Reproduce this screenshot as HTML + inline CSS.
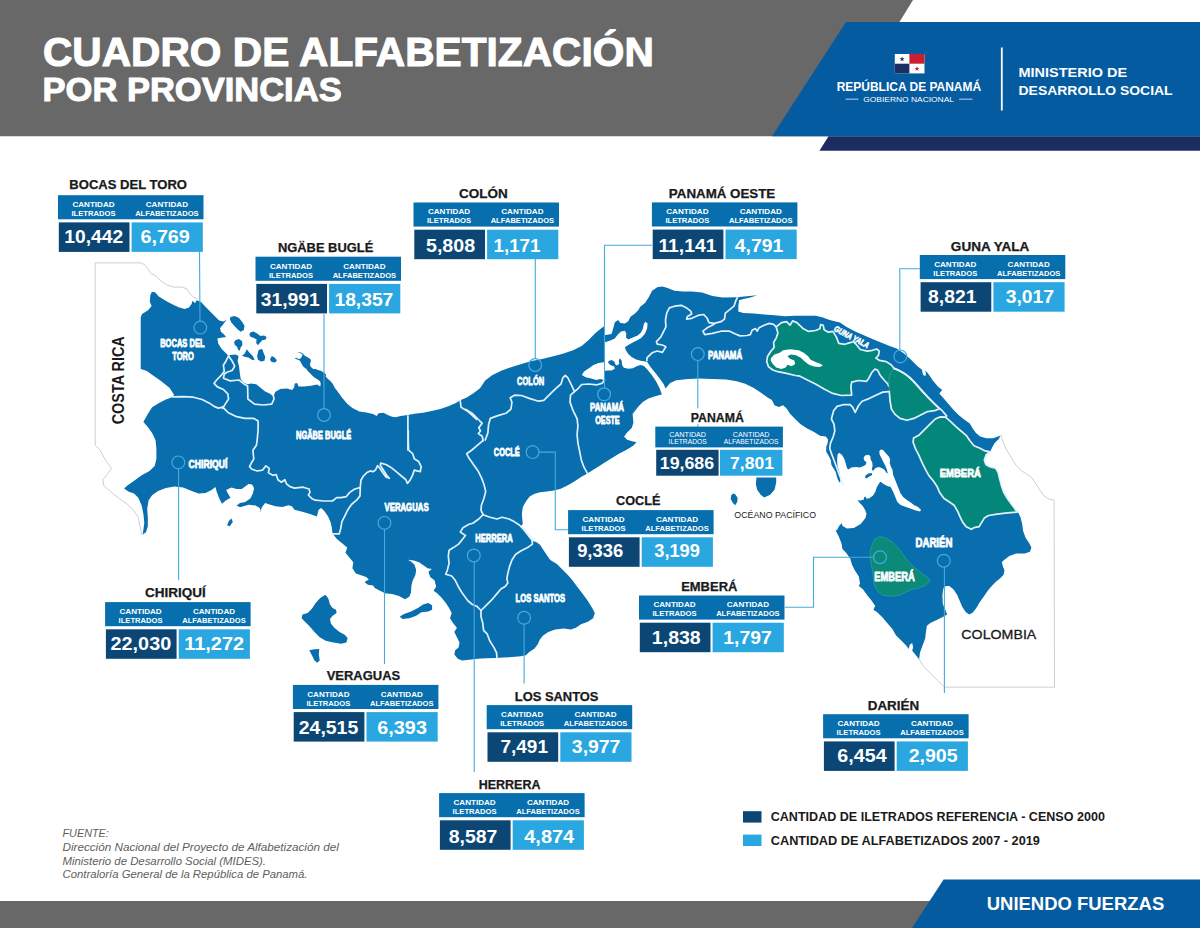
<!DOCTYPE html>
<html lang="es">
<head>
<meta charset="utf-8">
<title>Cuadro de Alfabetización por Provincias</title>
<style>
html,body{margin:0;padding:0;background:#fff;}
body{width:1200px;height:928px;overflow:hidden;}
svg{display:block;font-family:'Liberation Sans', sans-serif;}
</style>
</head>
<body>
<svg width="1200" height="928" viewBox="0 0 1200 928">
<rect width="1200" height="928" fill="#fff"/>
<polygon points="0,0 913,0 829,136.2 0,136.2" fill="#696868"/>
<polygon points="846,22 1200,22 1200,136.3 772,136.3" fill="#055ba0"/>
<polygon points="828.5,136.3 1200,136.3 1200,150.7 819.5,150.7" fill="#1b2d60"/>
<text x="42.995" y="65.8" font-size="41.5" font-weight="bold" fill="#fff" text-anchor="start" textLength="610.765" lengthAdjust="spacingAndGlyphs" stroke="#fff" stroke-width="1.1">CUADRO DE ALFABETIZACIÓN</text>
<text x="42.534" y="101" font-size="33.8" font-weight="bold" fill="#fff" text-anchor="start" textLength="299.118" lengthAdjust="spacingAndGlyphs" stroke="#fff" stroke-width="1">POR PROVINCIAS</text>
<g>
<rect x="894.8" y="54" width="29.7" height="19.4" fill="#fff"/>
<rect x="909.4" y="54" width="15.1" height="9.7" fill="#c8202f"/>
<rect x="894.8" y="63.7" width="14.6" height="9.7" fill="#1b2f63"/>
<polygon points="902.1,56.5 902.71,58.26 904.57,58.3 903.09,59.42 903.63,61.2 902.1,60.14 900.57,61.2 901.11,59.42 899.63,58.3 901.49,58.26" fill="#1b2f63"/>
<polygon points="917,66.2 917.61,67.96 919.47,68 917.99,69.12 918.53,70.9 917,69.84 915.47,70.9 916.01,69.12 914.53,68 916.39,67.96" fill="#c8202f"/>
</g>
<text x="836.66" y="90.8" font-size="12" font-weight="bold" fill="#fff" text-anchor="start" textLength="144.52" lengthAdjust="spacingAndGlyphs">REPÚBLICA DE PANAMÁ</text>
<text x="863.254" y="102.2" font-size="7.8" font-weight="normal" fill="#fff" text-anchor="start" textLength="90.758" lengthAdjust="spacingAndGlyphs">GOBIERNO NACIONAL</text>
<rect x="845.5" y="98.6" width="13" height="1.2" fill="#a9b9ea"/>
<rect x="959" y="98.6" width="13.5" height="1.2" fill="#a9b9ea"/>
<rect x="1000.9" y="47.5" width="1.8" height="63" fill="#fff"/>
<text x="1018.55" y="77.2" font-size="13.5" font-weight="bold" fill="#fff" text-anchor="start" textLength="108.485" lengthAdjust="spacingAndGlyphs">MINISTERIO DE</text>
<text x="1018.55" y="95.1" font-size="13.5" font-weight="bold" fill="#fff" text-anchor="start" textLength="154.085" lengthAdjust="spacingAndGlyphs">DESARROLLO SOCIAL</text>
<rect x="0" y="901" width="960" height="27" fill="#696868"/>
<polygon points="943.6,879.6 1200,879.6 1200,928 912,928" fill="#055ba0"/>
<text x="986.74" y="910" font-size="18" font-weight="bold" fill="#fff" text-anchor="start" textLength="177.48" lengthAdjust="spacingAndGlyphs">UNIENDO FUERZAS</text>
<path d="M197.2 299.1 L192.9 296.6 L189.5 293.1 L186.9 288.8 L181.7 287.1 L173.1 287.1 L166.2 284.5 L160.2 280.2 L155.9 275.9 L150.7 273.3 L148.1 269 L144.7 264.8 L141.2 262.9 L95.2 262.9 L95.2 445.2 L100.3 450.3 L103.8 457.2 L107.2 462.4 L111.6 468.4 L107.2 474.5 L102.9 479.7 L103.8 485.7 L110.7 491.7 L119.3 498.6 L127.9 504.7 L134 510.7 L138.3 517.6 L140 526.2 L141.7 534.8" fill="none" stroke="#cfcfcf" stroke-width="1"/>
<path d="M1000.7 434.8 L1002.4 439.7 L1004.1 444.8 L1007.6 451.7 L1011.9 458.6 L1016.2 465.5 L1021.4 470.7 L1026.6 474.1 L1031.7 477.6 L1035.2 482.8 L1039.5 489.7 L1043.8 495.7 L1049 499.1 L1054.1 500 L1054.5 687.2 L944.5 687.2 L942.4 685.2 L937.2 680 L930.3 673.1 L923.4 666.2 L919.1 659.3" fill="none" stroke="#cfcfcf" stroke-width="1"/>
<path d="M151.9 291.7 L155.3 292.4 L158.8 296.4 L164.8 300.3 L171.7 304.1 L178.6 307.2 L184.7 309 L189 307.6 L191.6 304.1 L192.4 300.7 L195 303.3 L196.7 300.3 L201 302.1 L206.2 307.6 L213.1 314.5 L219.1 320.5 L223.4 321.4 L226.6 319.7 L223.4 324 L220 328.3 L220.9 331.7 L224.3 334.8 L226 336.9 L220.9 337.8 L217.4 338.6 L218.3 343.8 L221.7 349 L226 353.3 L228.6 355.9 L230.3 355 L235.5 354.5 L238.6 355.9 L237.6 361 L239 366.2 L239.8 373.1 L240.7 379.1 L243.3 382.6 L247.6 384.3 L251 383.4 L256.2 384.3 L260.5 387.8 L264.8 391.2 L270 393.8 L273.4 396.4 L275.2 392.1 L280.3 389 L280 389.1 L286.9 388.6 L292.1 390 L294.1 387.4 L294.7 383.4 L297.2 383.1 L298.6 386.6 L304.1 386.6 L311 385.7 L317.1 384.5 L320.2 386.6 L320.7 384 L320.2 381.4 L318.1 379.8 L315.5 378.3 L312.9 376.2 L310.3 373.6 L307.8 371 L306.2 368.7 L303.6 366.9 L302.1 364.8 L301 362.8 L300 360.7 L298.5 359.9 L296.1 359.1 L294.6 358.2 L296.1 357.8 L298.7 358.9 L300.3 358.7 L301.8 356.8 L302.6 355 L301.6 353.7 L299 352.8 L297.2 352.2 L300 352.3 L302.8 353.6 L304.4 355.5 L307 357.1 L309.6 358.5 L310.9 359.9 L310.6 362.2 L309.8 364.8 L310.9 366.9 L313.2 369 L315.5 369.1 L318.1 370 L321.2 371 L324.3 372.9 L326.1 374.4 L325.6 376.2 L327.7 378.8 L330.3 380.9 L332.9 384 L334.9 388 L337.8 391.7 L342.1 397.8 L347.2 403.8 L352.4 408.1 L359.3 411.6 L366.2 412.4 L373.1 414.1 L376.6 415.9 L378.6 413.3 L383.4 412.8 L387.8 415 L392.1 416.7 L395.5 417.2 L400.7 415.9 L407.6 415 L414.5 413.8 L423.1 412.8 L431.7 411 L440.3 409 L449 405.9 L455.9 402.9 L460.2 400.3 L466.2 397.8 L473.1 393.4 L480 388.3 L485.2 380.5 L492.1 375.3 L500.7 371 L511 367.2 L521.4 364.1 L531.7 361 L542.1 359 L552.4 356.4 L562.8 353.8 L573.1 350.3 L581.7 346 L588.6 340 L595.5 333.1 L600.7 328.8 L603.8 326.6 L604 326.8 L604 335.2 L611.5 334.1 L613.1 329.1 L614.8 322.3 L618.2 320.1 L620.4 322.9 L624.9 323.4 L628.3 321.2 L630.5 316.7 L635 313.4 L638.4 310 L640 307.1 L645.2 302.8 L648.6 297.6 L652.1 290.7 L657.2 287.2 L662.4 286.4 L667.6 288.1 L674.5 290.7 L683.1 291.6 L691.7 291.6 L702.1 292.4 L712.4 295.9 L722.8 297.6 L736.6 297.2 L746.9 296.2 L757.2 295.3 L750.3 297.6 L743.4 299 L739.1 300.2 L738.3 306.2 L738.3 311.4 L743.4 313.1 L753.8 313.4 L764.1 314.5 L774.5 315.2 L784.8 316.2 L795.2 315.7 L805.5 315.7 L815.9 315.7 L822.8 317.4 L829.7 320 L836.6 321.7 L840 322.6 L846.6 327.1 L855.2 331.4 L863.8 335.2 L872.4 339.1 L881 342.6 L889.7 346 L896.6 348.6 L903.4 352.9 L910.3 359 L917.2 365.9 L921.7 369.5 L926.9 372.1 L930 376.2 L932.8 380.5 L937.9 386.6 L942.2 390 L939.3 393.4 L943.1 397.8 L948.3 403.8 L953.4 409.8 L958.6 415 L963.8 419.3 L969.8 423.6 L972.4 427.9 L975.9 433.1 L980.2 436.6 L986.2 438.3 L993.1 438.3 L1000 435.7 L1000.7 434.8 L999 438.8 L994.7 443.1 L992.1 447.4 L990.3 451.4 L986 455.2 L984.3 460.3 L986 464.7 L990.3 466.9 L995.5 468.1 L998.1 472.4 L999.8 479.3 L1001.6 486.2 L1004.1 493.1 L1008.4 500 L1013.6 506.9 L1017.9 512.1 L1020.5 517.2 L1022.2 524.1 L1023.1 531 L1025.7 537.9 L1029.1 543.1 L1031.4 547.4 L1030 551.7 L1024.8 553.4 L1016.2 553.4 L1009.3 556 L1004.1 560 L1001.9 561.9 L1002.8 566.2 L1004.5 570.5 L1003.6 574.8 L1000.2 578.3 L995.9 581.7 L992.4 585.2 L988.1 590.3 L983.8 596.4 L979.5 602.4 L976 608.4 L972.6 612.8 L969.1 614.5 L965.7 611.9 L962.2 606.7 L959.7 600.7 L957.1 594.7 L953.6 589.5 L949.3 586 L945.9 586 L943.3 588.6 L942.4 595.5 L942.8 604.1 L945 609.3 L947.2 614.5 L944.1 616.2 L937.2 619.7 L930.3 623.1 L926.9 625.7 L926 631.7 L925.2 638.6 L922.6 645.5 L920 652.4 L919.1 659.3 L915.7 655 L912.2 650.7 L913.1 647.2 L912.2 642.9 L909.7 644.7 L908.8 649 L906.2 645.5 L901 640.3 L895.9 635.2 L892.4 629.1 L887.2 623.1 L882.1 617.1 L876.9 611.9 L873.4 609.7 L875.2 605.9 L871.7 600.7 L867.4 595.5 L863.1 589.5 L858.8 586 L860 583.4 L858.8 576.6 L854.5 569.7 L851.9 564.5 L850.2 558.4 L845.9 552.4 L842.4 549 L841.6 543.8 L839 536.9 L835.5 530 L836.9 530.2 L839.1 525.9 L841.7 523.3 L842.6 525.9 L846.9 528.4 L853.8 527.9 L860.7 524.1 L865.5 518 L866.5 513.4 L865 509.7 L862.7 505.9 L859.8 503 L857.5 500.2 L860.8 500.6 L863.6 499.7 L864.1 497.3 L865.5 496.4 L866.5 498.8 L869.3 498.3 L873.1 495.4 L875.5 491.6 L876.9 486.9 L879.3 483.1 L880.7 481.7 L883.5 484.1 L887.3 485.9 L890.6 486.9 L893 491.6 L895.4 497.3 L897.3 502.1 L900.6 504.9 L905.3 506.8 L911 508.7 L915.8 510.6 L920 511.6 L921 509.7 L917.7 506.8 L913.9 504.9 L910.1 502.1 L907.2 500.2 L903.4 497.3 L900.6 493.5 L898.7 488.8 L896.8 484.1 L894.9 479.3 L893 474.6 L892.5 469.8 L890.6 466 L889.7 462.7 L890.2 459.4 L888.8 456.6 L885.9 453.2 L883.1 449.9 L880.7 449.4 L879.3 451.3 L879.7 454.7 L881.6 458.4 L883.5 462.2 L885.4 466 L886.9 469.8 L887.8 473.6 L886.4 472.7 L884.5 469.8 L881.6 467.9 L878.8 467 L875.5 467.9 L873.1 470.8 L871.7 469.8 L872.6 466 L872.2 462.2 L870.7 459.4 L870.3 456.1 L868.4 454.7 L865 455.6 L863.6 458 L864.1 460.3 L866.5 462.2 L865.5 465.1 L863.6 466 L859.8 467.5 L856 467 L851.3 467.5 L848.4 469.4 L847 467.9 L845.6 463.2 L844.2 458.4 L841.8 454.7 L839 452.8 L837.5 454.7 L837.1 460.3 L837.5 466 L839 470.8 L839.9 475.5 L840.4 481.2 L839.9 482.6 L839 481.7 L837.1 477.4 L835.6 471.7 L833.3 467.9 L831.4 465.1 L830.9 460.3 L828.5 455.6 L826.2 451.8 L826.2 447.1 L827.6 443.3 L828.1 439.5 L825.7 436.6 L820 435.7 L814.1 431.9 L807.2 428.4 L800.3 424.1 L795.2 419 L790 413.8 L786.6 408.6 L783.1 405.2 L778.8 406.9 L774.5 405.2 L771.9 400 L767.6 397.6 L760.7 392.4 L753.8 388.1 L745.2 383.8 L736.6 381.2 L726.2 379.5 L712.4 379 L698.6 378.6 L688.3 379 L676.2 380.3 L670.2 382.9 L665.9 388.1 L663.6 394.1 L655.2 396.3 L648.4 398.5 L642.8 401.9 L638.4 406.4 L635 410.9 L632.8 414 L635.2 407.2 L632.6 414.1 L633.4 422.8 L631.7 427.9 L626.6 433.1 L623.1 438.3 L623.6 436.2 L627.1 439.7 L633.1 441.4 L636.6 442.2 L633.1 445.7 L626.2 450 L619.3 453.4 L612.4 457.8 L605.5 462.1 L598.6 466.4 L591.7 470.7 L586.6 474.1 L581.4 476.7 L576.2 480.2 L571 483.6 L565.9 486.2 L560.7 488.8 L553.8 490.5 L546.9 491.4 L540 492.2 L534 494 L529.7 496.6 L526.2 500.9 L522.8 506.9 L521.9 513.8 L522.4 520.7 L522.8 524.1 L520.2 526.7 L524.5 531 L527.9 536.2 L531.4 540.5 L536.6 542.2 L540 544.8 L543.4 550 L546.9 555.2 L550.3 560 L556.9 564 L562.9 570 L568.1 575.2 L572.4 580.3 L577.6 587.2 L582.8 594.1 L587.9 601 L592.2 607.9 L594.8 613.1 L593.1 618.3 L587.9 621.7 L581 624.3 L575.9 627.8 L570.7 629.5 L563.8 628.6 L555.2 629.5 L548.3 632.1 L543.1 635.5 L539.7 639.8 L537.9 644.1 L534.5 648.4 L529.3 651.9 L525.9 655.3 L520.7 656.2 L512.1 657.1 L503.4 657.6 L496.6 657.9 L486.2 658.3 L477.6 658.8 L469 659.7 L462.1 660.5 L457.8 658.8 L454.3 654.5 L455.2 650.2 L458.6 647.6 L459.5 642.4 L456.9 637.2 L454.3 632.1 L456.9 627.8 L453.4 623.4 L450 618.3 L451.7 613.1 L449.1 607.9 L445.7 602.8 L441.4 597.6 L437.1 593.3 L433.6 590.7 L436.2 586.4 L434.5 580.3 L430.2 576.9 L428.4 571.7 L431.9 569.1 L427.6 568.3 L424.1 565.7 L419 562.2 L413.8 560.5 L407.8 559.7 L411 561.4 L414.5 564.8 L416.2 570 L415.3 575.2 L412.8 580.3 L411.4 585.5 L411 592.4 L409.3 596.7 L405 599.3 L399 595.9 L392.1 594.1 L385.2 593.3 L380 590.7 L374.8 588.1 L373.1 585.5 L367.9 584.7 L364.5 582.1 L368.8 579.5 L366.2 576.9 L361 575.2 L355.9 573.4 L352.4 568.3 L353.3 562.2 L349 557.1 L345.5 552.8 L347.2 547.6 L342.1 543.3 L336.9 539 L332.6 533.8 L331.7 526.9 L330 520 L330.7 522.6 L328.1 516.6 L324.7 511.4 L321.2 507.9 L318.6 509.7 L316.9 516.6 L310 514 L301.4 511.4 L294.5 509.7 L291.9 506.2 L288.4 505.3 L282.4 507.1 L275.5 506.2 L269.5 504.5 L265.2 503.1 L262.6 506.2 L260 511.4 L260.7 512.4 L259.8 508.1 L255.5 505.5 L248.6 504.7 L240 507.2 L236.6 505.5 L240 502.9 L245.2 502.1 L250.3 498.6 L252.9 493.4 L254.1 488.3 L252.1 484.5 L248.6 484 L245.2 486.6 L241.7 489.1 L236.6 489.1 L231.4 487.4 L226.2 490 L227.9 493.4 L230.5 497.8 L226.2 500.3 L221.9 503.8 L219.3 498.6 L216.7 491.7 L215.5 486.9 L211.6 490 L205.5 493.1 L198.6 493.4 L191.7 490.9 L183.1 487.4 L174.5 486.6 L165.9 487.9 L158.1 490.9 L152.1 495.2 L148.6 500.3 L147.2 509 L147.8 517.6 L147.8 526.2 L146 532.2 L142.6 534.5 L143.4 529.7 L144.3 522.8 L143.4 514.1 L141.7 505.5 L138.3 497.8 L134 493.4 L128.8 491.7 L124.1 488.6 L127.1 485.7 L133.1 481.4 L141.7 475.3 L149.5 471 L154.7 465.9 L156.4 459 L156.4 448.6 L155.5 440 L152.1 433.1 L147.8 427.1 L143.4 421.9 L147.8 414.1 L152.1 407.2 L159 402.9 L165.9 399.5 L172.8 396.9 L172.2 397.4 L174 394.8 L169.7 387.9 L161 381 L152.4 375 L146.4 370.7 L140.7 369 L140.7 317.2 L142.1 314.1 L148.1 310.3 L151.6 306 L149.8 301.7 L150.3 295.2Z" fill="#086eae"/>
<path d="M230.3 317.1 L234.7 315.9 L239 317.9 L242.4 322.2 L244.5 325.7 L243.8 330 L240.7 331.7 L237.2 329.1 L233.8 325.2 L231.2 322.2 L230 319.3Z" fill="#086eae"/>
<path d="M250.2 332.6 L253.6 331.4 L257.1 333.4 L260.5 336 L264 335.5 L266.6 336.9 L265.7 339.5 L262.2 340.3 L259.7 342.9 L257.9 345.2 L256.2 342.9 L256.6 339.5 L253.6 337.8 L250.7 336.9 L249.3 334.8Z" fill="#086eae"/>
<path d="M235.5 340.3 L239 339 L242.1 341.2 L242.4 345.2 L240.7 347.2 L239.8 350.7 L238.1 349.8 L237.2 346.9 L234.7 344.7 L234.1 342.1Z" fill="#086eae"/>
<path d="M246.7 349.3 L249.3 352.4 L252.8 355.9 L254.8 360.2 L251.9 359.7 L248.4 357.6 L244.5 356.7 L242.1 355.5 L244.5 353.8 L245.9 351Z" fill="#086eae"/>
<path d="M258.8 349.8 L262.2 349 L263.4 352.4 L265.2 356.7 L264.5 360.7 L261 361.4 L257.9 359.7 L257.1 355.9 L257.9 352.4Z" fill="#086eae"/>
<path d="M271.7 355.9 L274.3 357.2 L276.9 360.2 L275.2 362.4 L271.7 361.9 L270 359.7Z" fill="#086eae"/>
<path d="M325.7 595 L328.3 598.4 L330 604.5 L332.6 607.9 L336 609.7 L336.6 613.1 L332.6 615.7 L330 619.1 L330.9 623.4 L334.3 627.8 L339.5 632.1 L344.7 634.7 L347.6 638.1 L346.4 642.4 L341.2 643.8 L333.4 642.4 L325.7 640.7 L319.7 637.2 L314.5 632.1 L309.3 626 L305 621.7 L301.6 618.3 L302.4 614.5 L307.6 613.1 L311.9 608.8 L315.3 603.6 L319.7 598.4 L323.1 595.9Z" fill="#086eae"/>
<path d="M309.3 650.2 L314.5 649.3 L319.3 649 L318.8 654.5 L319.7 660.5 L317.1 662.8 L314.5 660.5 L311.9 655.3Z" fill="#086eae"/>
<path d="M399.8 616.6 L404.1 614 L411 611.4 L417.9 607.9 L423.1 604.5 L428.3 603.1 L432.1 605.3 L432.1 609.7 L428.3 611.4 L421.4 612.2 L416.2 615.7 L409.3 618.3 L402.4 619.1Z" fill="#086eae"/>
<path d="M231.4 518.4 L232.8 521.9 L229.7 526.2 L227.1 525.3 L228.8 521Z" fill="#086eae"/>
<path d="M756.4 477.6 L776.2 477.6 L776.2 482.8 L774.5 489.7 L770.2 494.8 L764.1 497.4 L760.7 494.8 L757.2 489.7 L755.9 484.5Z" fill="#086eae"/>
<path d="M865.5 475.5 L868.4 473.6 L871.7 473.1 L872.2 475 L869.3 476.5 L866.5 478.4 L865 477.4Z" fill="#086eae"/>
<path d="M732.9 493.4 L735.2 494.3 L737.6 497.8 L737.2 502.1 L735.2 505.2 L732.9 502.9 L730.7 499 L731.2 495.5Z" fill="#086eae"/>
<path d="M581.8 375 L584 371.4 L588.5 368.5 L593.5 365.1 L598.6 362.9 L603.6 362.2 L604.3 362.2 L604.3 342.5 L610.3 340.5 L614.8 338.6 L617.6 334.7 L621 331.5 L624.9 330.7 L626.3 333.5 L626 337.5 L628.3 339.4 L632.8 337.5 L637.2 335.8 L640.6 333 L642.8 329.1 L644 323.4 L645.6 321.8 L647.6 323.4 L647.1 328.5 L644.9 333.8 L641.2 338 L637.2 340.3 L632.8 342.5 L628.3 345 L624.9 347.2 L626 350.6 L628.3 353.9 L631.6 357.1 L636.1 359.5 L641.7 361.1 L647.1 361.8 L650.7 367.2 L655.2 372.8 L659.7 378.4 L663.6 384 L665.3 387.9 L668.6 391.8 L664.1 398.5 L661.9 394.6 L659.7 388.4 L656.3 381.7 L651.8 375 L647.3 369.4 L644 366 L640.6 365.1 L637.2 366 L632.8 368.3 L628.3 368.8 L623.8 367.7 L622.1 364.9 L621.6 360.4 L619.9 358.2 L618.8 360.4 L619.3 363.8 L617.1 365.5 L615.4 364.4 L614.3 361.6 L611.5 359.9 L608.7 361 L608.1 362.7 L610.3 364.9 L614.3 366.6 L614.8 368.8 L611.5 370.5 L607 370.5 L604.3 371.1 L604 371.1 L604 380 L600.3 379.1 L596.3 380 L591.3 378.6 L585.7 377.2Z" fill="#fff"/>
<path d="M921.9 369.3 L923 374.7 L925.3 376.2 L926.1 372.9 L924 370Z" fill="#fff"/>
<path d="M776.2 326.9 L781.4 322.6 L786.6 321.7 L790 325.2 L792.6 320.9 L796.9 322.6 L803.4 328.8 L808.6 331.4 L815.5 330.5 L819.8 328.8 L820.7 324.5 L823.3 325.3 L824.1 329.7 L828.4 332.2 L832.8 331.4 L836.2 336.6 L838.8 343.4 L844.8 344.3 L850 342.6 L853.4 341.7 L856.9 345.2 L860.3 349.5 L867.2 351.2 L872.4 350.3 L876.7 349 L879.3 351.2 L878.4 355.5 L875.9 358.1 L879.3 360.3 L886.2 361.6 L891.4 365 L894 368.4 L890.5 372.8 L889.3 377.9 L888.8 386.6 L887.9 384 L884.5 380.5 L880.2 375.3 L877.6 370.2 L875 369 L871.6 372.8 L869 377.9 L866.4 381.4 L858.6 380.5 L851.7 382.2 L850.9 386.6 L851.7 395.2 L841.4 395.5 L832.8 393.4 L824.1 389.1 L815.5 384 L806.9 379.7 L800 376.2 L795.2 375.5 L786.6 373.4 L777.9 371.7 L772.8 370 L768.4 366.6 L766.7 361.4 L767.6 356.2 L771 351 L774.1 347.6 L773.6 342.4 L776.2 338.1 L777.9 332.9Z" fill="#03877b"/>
<path d="M795.2 375.5 L786.6 373.4 L777.9 371.7 L772.8 370 L768.4 366.6 L766.7 361.4 L767.6 356.2 L771 351 L774.1 347.6 L773.6 342.4 L776.2 338.1 L777.9 332.9 L776.2 326.9 L781.4 322.6 L786.6 321.7 L790 325.2 L792.6 320.9 L796.9 322.6 L803.4 328.8 L808.6 331.4 L815.5 330.5 L819.8 328.8 L820.7 324.5 L823.3 325.3 L824.1 329.7 L828.4 332.2 L832.8 331.4 L836.2 336.6 L838.8 343.4 L844.8 344.3 L850 342.6 L853.4 341.7 L856.9 345.2 L860.3 349.5 L867.2 351.2 L872.4 350.3 L876.7 349 L879.3 351.2 L878.4 355.5 L875.9 358.1 L879.3 360.3 L886.2 361.6 L891.4 365 L894 368.4" fill="none" stroke="#e2f2fc" stroke-width="1.7" stroke-linejoin="round"/>
<path d="M888.8 386.6 L887.9 384 L884.5 380.5 L880.2 375.3 L877.6 370.2 L875 369 L871.6 372.8 L869 377.9 L866.4 381.4 L858.6 380.5 L851.7 382.2 L850.9 386.6 L851.7 395.2 L841.4 395.5 L832.8 393.4 L824.1 389.1 L815.5 384 L806.9 379.7 L800 376.2 L795.2 375.5" fill="none" stroke="#e2f2fc" stroke-width="1.7" stroke-linejoin="round"/>
<path d="M894 368.4 L900 371 L906.9 375.3 L913.8 381.4 L920.7 389.1 L927.6 396.9 L934.5 403.8 L939.7 408.6 L934.5 410.7 L927.6 411.6 L920.7 415 L913.8 418.4 L906.9 420.2 L900 418.4 L894.8 414.1 L891.4 409 L890 400.3 L889.3 391.7 L888.8 384 L889.3 377.9 L890.5 372.8Z" fill="#03877b" stroke="#4fae9f" stroke-width="0.6"/>
<path d="M940.3 416.9 L945.5 417.2 L950.7 421.6 L955.9 426.7 L961 431 L966.2 435.3 L969.7 440.5 L974 445.7 L980 448.3 L985.2 450.9 L989.5 451.7 L986 455.2 L984.3 460.3 L986 464.7 L990.3 466.9 L995.5 468.1 L998.1 472.4 L999.8 479.3 L1001.6 486.2 L1004.1 493.1 L1008.4 500 L1013.6 506.9 L1017.1 512.1 L1007.6 512.9 L997.2 514.1 L988.6 515.5 L984.3 518.1 L981.7 522.4 L979.1 526.7 L974 527.6 L971.4 529.3 L966.2 526.7 L962.8 522.4 L960.2 517.2 L957.6 511.2 L954.1 505.2 L949 501.7 L943.8 498.3 L939.5 492.2 L936.9 486.2 L933.4 481 L929.1 475.9 L925.7 469.8 L922.2 462.9 L918.8 455.2 L915.3 448.3 L913.1 442.2 L913.6 437.9 L918.8 435.3 L924 430.2 L930 424.1 L935.2 419Z" fill="#03877b" stroke="#e2f2fc" stroke-width="1.7" stroke-linejoin="round"/>
<path d="M879.5 536.6 L885.5 537.8 L892.4 542.1 L897.6 547.2 L902.8 554.1 L907.9 561 L914 567.1 L921.7 573.1 L928.6 578.3 L930.3 580.9 L926 585.2 L919.1 587.8 L911.4 589.5 L904.5 592.9 L899.3 595.5 L890.7 596.4 L882.1 595.2 L876.9 590.3 L873.8 583.4 L873.1 574.8 L871.7 566.2 L870 557.6 L870.3 550.7 L872.6 543.8 L875.2 538.6Z" fill="#0c8a79" stroke="#2c9c9a" stroke-width="0.8"/>
<path d="M771 357.9 L774.5 354.5 L779.7 352.8 L783.1 350.2 L790 349.3 L798.6 350.2 L803.8 352.8 L808.1 356.2 L810.7 359.7 L815.9 362.2 L821 364 L822.8 365.7 L819.3 366.9 L814.1 366.6 L809 364.8 L804.7 361.4 L801.2 357.9 L796 355.3 L790.9 354.5 L787.4 356.2 L790 358.8 L794.3 360.5 L795.2 364 L791.7 366.2 L787.4 364.8 L785.7 367.4 L781.4 369.1 L776.2 367.4 L772.8 364 L770.7 360.5Z" fill="#fff"/>
<path d="M894 368.4 L900 371 L906.9 375.3 L913.8 381.4 L920.7 389.1 L927.6 396.9 L934.5 403.8 L939.7 408.6 L934.5 410.7 L927.6 411.6 L920.7 415 L913.8 418.4 L906.9 420.2 L900 418.4 L894.8 414.1 L891.4 409 L890 400.3 L889.3 391.7" fill="none" stroke="#e2f2fc" stroke-width="1.7" stroke-linejoin="round"/>
<path d="M228.6 355.9 L226 361 L223.4 365.3 L224.3 371.4 L220.9 375.7 L216.6 380 L214 383.4 L217.4 386.9 L223.4 389.5 L227.8 393.8 L228.6 399 L225.2 404.1 L222.6 408.4" fill="none" stroke="#e2f2fc" stroke-width="1.7" stroke-linejoin="round" stroke-linecap="round"/>
<path d="M228.6 355.9 L232.1 361 L234.7 366.2 L232.1 370.5 L226.9 372.2 L224.3 374 L223.4 378.3 L230.3 380.9 L239 380 L243.3 383.4 L247.6 386 L247.9 399 L254.5 404.1 L263.1 405 L271.7 404.1 L274 399 L273.4 395.9" fill="none" stroke="#e2f2fc" stroke-width="1.7" stroke-linejoin="round" stroke-linecap="round"/>
<path d="M172.8 396.9 L183.1 396.6 L193.4 397.2 L202.1 399.5 L209 402.9 L214.1 406.4 L218.4 408.1 L222.8 407.2" fill="none" stroke="#e2f2fc" stroke-width="1.7" stroke-linejoin="round" stroke-linecap="round"/>
<path d="M222.8 407.2 L227.9 412.4 L236.6 416.7 L245.2 418.4 L253.8 418.4 L258.1 421 L258.1 429.7 L257.2 440 L256.4 445.2 L252.9 450.3 L253.8 459 L251.2 463.3 L249.5 466.7 L252.1 469.3 L257.2 471 L262.4 470.2 L265.9 465.9 L269.3 468.4 L268.4 472.8 L272.8 475.3 L276.2 474.5 L277.9 479.7 L281.4 482.2 L284.8 479.7 L286.6 484 L290 486.6 L294.5 488.1 L303.1 487.2 L309.1 489 L310 492.4 L308.3 495 L311.7 498.4 L315.2 500.2 L323.8 501 L332.4 501 L336.7 497.6 L341 497.6 L346.2 496.7 L349.7 492.4 L354.8 489 L360 487.6" fill="none" stroke="#e2f2fc" stroke-width="1.7" stroke-linejoin="round" stroke-linecap="round"/>
<path d="M407.9 415.9 L407.9 450 L408.3 430.3 L408.3 440.7 L408.6 450.2 L412.6 453.6 L414.3 458.8 L418.6 461.4 L421.2 466.6 L420.3 471.7 L416.9 470.9 L414.3 470 L412.6 475.2 L410 480.3 L407.4 483.4 L405.7 479.5 L401.4 476 L396.2 471.7 L391 467.4 L385.9 464.5 L380.7 463.1 L380.3 465.2 L383.3 470 L386.7 475.2 L389.3 478.3 L385.9 476.9 L383.3 473.4 L379.8 468.3 L377.6 465.7 L375.5 470 L372.9 471.7 L370.3 470.9 L366.9 472.6 L363.4 476 L360.9 480.3 L360.3 487.2 L360 495.9 L356.6 500.2 L351.4 504.5 L347.9 509.7 L344.5 516.6 L341.9 521.7 L340.7 528.6 L339.3 533.8 L332.4 533.8" fill="none" stroke="#e2f2fc" stroke-width="1.7" stroke-linejoin="round" stroke-linecap="round"/>
<path d="M460.2 400.3 L461 407.2 L469.7 412.4 L476.6 419.3 L465.9 409.5 L472.8 413.8 L477.9 419 L482.2 423.3 L478.8 427.6 L480.5 431 L478.3 433.6 L482.2 436.2 L483.1 440.5" fill="none" stroke="#e2f2fc" stroke-width="1.7" stroke-linejoin="round" stroke-linecap="round"/>
<path d="M485.2 440 L487.8 433.1 L488.6 424.5 L490.3 418.4 L497.2 415.9 L505.9 413.3 L511 409 L511.9 402.1 L510.2 397.8 L514.5 395.2 L521.4 395.5 L530 398.6 L538.6 401.2 L543.8 400.3 L549 395.2 L555.9 388.3 L561 384 L562.8 377.9 L565.3 375.3 L567.9 377.9 L571.4 384.8 L574.5 391.7 L578.3 388.3 L581.7 384.5 L588.6 384 L597.2 384.8 L602.4 383.1 L604.5 379.7" fill="none" stroke="#e2f2fc" stroke-width="1.7" stroke-linejoin="round" stroke-linecap="round"/>
<path d="M574.5 391.7 L570.5 395.2 L570 402.1 L573.1 410.7 L577.4 419.3 L577.1 419 L577.9 425.9 L577.1 434.5 L577.9 443.1 L579.7 451.7 L581.4 460.3 L584 467.2 L587.4 473.3" fill="none" stroke="#e2f2fc" stroke-width="1.7" stroke-linejoin="round" stroke-linecap="round"/>
<path d="M483.1 440.5 L477.9 444.8 L471.9 450 L466.7 453.8 L469.3 458.6 L473.6 464.7 L477.9 470.7 L481.4 477.6 L484 484.5 L485.7 491.4 L484 498.3 L481.4 505.2 L481 510.3 L483.1 514.7" fill="none" stroke="#e2f2fc" stroke-width="1.7" stroke-linejoin="round" stroke-linecap="round"/>
<path d="M483.1 514.7 L478.8 519 L472.8 523.3 L469 524.3 L462.9 527.8 L460.3 532.1 L465.5 535.5 L462.1 539.8 L458.6 544.1 L453.4 547.6 L449.1 550.2 L448.3 556.2 L449.1 563.1 L447.4 570 L445.7 574.3 L451.7 576 L455.2 580.3 L458.6 587.2 L462.9 594.1 L468.1 601 L472.4 604.5 L476.7 606.2 L481 610.5" fill="none" stroke="#e2f2fc" stroke-width="1.7" stroke-linejoin="round" stroke-linecap="round"/>
<path d="M483.1 514.7 L490 517.2 L496.9 519 L502.1 517.2 L509 519 L514.1 521.6 L519.3 525 L522.8 528.4 L527.1 533.6 L525.9 532.1 L531.9 538.1 L532.4 544.1 L527.6 547.6 L520.7 551 L515.5 554.5 L512.1 559.7 L509.5 566.6 L507.8 573.4 L506.9 578.6 L507.8 582.9 L505.2 586.4 L500.9 589 L496.6 594.1 L491.4 600.2 L486.2 605.3 L481 610.5" fill="none" stroke="#e2f2fc" stroke-width="1.7" stroke-linejoin="round" stroke-linecap="round"/>
<path d="M481 610.5 L481 616.6 L482.8 623.4 L483.6 630.3 L487.1 633.8 L489.7 640.7 L494 647.6 L496.6 652.8 L496.9 657.9" fill="none" stroke="#e2f2fc" stroke-width="1.7" stroke-linejoin="round" stroke-linecap="round"/>
<path d="M646.9 360.5 L646.9 357.9 L652.1 352.8 L657.2 351 L662.4 352.4 L665.9 346.7 L662.4 345 L657.2 344.1 L656.4 341.6 L660.7 337.2 L663.3 332.1 L665.9 326.9 L665.5 320 L666.7 313.1 L669.3 307.9 L674.5 306.2 L681.4 305.3 L686.6 307.9 L690.9 311.4 L691.7 314 L687.4 316.6 L686.6 319.1 L691.7 318.3 L698.6 315.2 L703.8 314.5 L707.2 318.3 L709 322.6 L714.1 323.4 L721 321.7 L724.5 319.1 L725.3 313.1 L729.7 309.7 L734 306.2 L735.7 301 L737.4 297.6" fill="none" stroke="#e2f2fc" stroke-width="1.7" stroke-linejoin="round" stroke-linecap="round"/>
<path d="M714.1 324.3 L707.2 327.8 L702.9 331.2 L704.7 334.7 L712.4 333.4 L721 331.2 L729.7 331.2 L734.8 333.8 L740 335.9 L746.9 335.5 L750.3 334.7 L752.1 330.3 L755.5 328.6 L757.2 331.2 L759 327.8 L764.1 325.2 L769.3 323.4 L773.6 324.3 L776.2 326.9" fill="none" stroke="#e2f2fc" stroke-width="1.7" stroke-linejoin="round" stroke-linecap="round"/>
<path d="M889.3 391.7 L882.8 392.1 L875.9 395.2 L869 398.6 L862.1 401.2 L858.6 405.5 L855.2 412.4 L852.6 407.2 L850 404.7 L843.1 404.7 L837.1 406.4 L833.6 410.7 L831.4 419 L834 424.1 L834.8 431 L833.1 437.1 L830.5 443.1 L829.7 448.3 L831.4 453.4 L834 460.3 L836.6 467.2 L839.1 474.1 L841.7 481 L842.9 484.5" fill="none" stroke="#e2f2fc" stroke-width="1.7" stroke-linejoin="round" stroke-linecap="round"/>
<path d="M894 368.4 L896.6 369.3 L903.4 372.8 L910.3 377.9 L917.2 385.7 L924.1 393.4 L931 400.3 L937.9 407.2 L942.2 410.7 L946.6 415.9 L946.4 416.4" fill="none" stroke="#e2f2fc" stroke-width="1.7" stroke-linejoin="round" stroke-linecap="round"/>
<circle cx="200.3" cy="327.6" r="6.4" fill="none" stroke="#45aade" stroke-width="1.2"/>
<path d="M199.5 251 L200 321.2" fill="none" stroke="#45aade" stroke-width="1.1"/>
<circle cx="324" cy="415" r="6.4" fill="none" stroke="#45aade" stroke-width="1.2"/>
<path d="M324 314 L324 408.6" fill="none" stroke="#45aade" stroke-width="1.1"/>
<circle cx="535.2" cy="365" r="6.4" fill="none" stroke="#45aade" stroke-width="1.2"/>
<path d="M535.3 259 L535.3 358.6" fill="none" stroke="#45aade" stroke-width="1.1"/>
<circle cx="604.1" cy="394.3" r="6.4" fill="none" stroke="#45aade" stroke-width="1.2"/>
<path d="M652 245.3 L604.5 245.3 L604.5 387.9" fill="none" stroke="#45aade" stroke-width="1.1"/>
<circle cx="697.8" cy="354.1" r="6.4" fill="none" stroke="#45aade" stroke-width="1.2"/>
<path d="M697.8 360.5 L697.8 408.2" fill="none" stroke="#45aade" stroke-width="1.1"/>
<path d="M697.8 424.2 L697.8 426.8" fill="none" stroke="#45aade" stroke-width="1.1"/>
<circle cx="900.3" cy="356.4" r="6.4" fill="none" stroke="#45aade" stroke-width="1.2"/>
<path d="M919.7 268.8 L899.8 268.8 L899.8 350" fill="none" stroke="#45aade" stroke-width="1.1"/>
<circle cx="178.3" cy="462.4" r="6.4" fill="none" stroke="#45aade" stroke-width="1.2"/>
<path d="M178.6 468.8 L178.6 580" fill="none" stroke="#45aade" stroke-width="1.1"/>
<circle cx="384.5" cy="522.9" r="6.4" fill="none" stroke="#45aade" stroke-width="1.2"/>
<path d="M384.5 529.3 L384.5 664" fill="none" stroke="#45aade" stroke-width="1.1"/>
<circle cx="532.6" cy="452.1" r="6.4" fill="none" stroke="#45aade" stroke-width="1.2"/>
<path d="M539 452.1 L555.3 452.1 L555.3 529.8 L568.5 529.8" fill="none" stroke="#45aade" stroke-width="1.1"/>
<circle cx="473.8" cy="555.5" r="6.4" fill="none" stroke="#45aade" stroke-width="1.2"/>
<path d="M474.2 561.9 L474.2 772" fill="none" stroke="#45aade" stroke-width="1.1"/>
<circle cx="524.1" cy="617.8" r="6.4" fill="none" stroke="#45aade" stroke-width="1.2"/>
<path d="M524.1 624.2 L524.1 683.5" fill="none" stroke="#45aade" stroke-width="1.1"/>
<circle cx="880" cy="557.2" r="6.4" fill="none" stroke="#45aade" stroke-width="1.2"/>
<path d="M873.6 557.2 L813.5 557.2 L813.5 607.2 L785 607.2" fill="none" stroke="#45aade" stroke-width="1.1"/>
<circle cx="943.8" cy="560.7" r="6.4" fill="none" stroke="#45aade" stroke-width="1.2"/>
<path d="M944.4 567.1 L944.4 693" fill="none" stroke="#45aade" stroke-width="1.1"/>
<text x="160.2" y="346.6" font-size="10.89" font-weight="bold" fill="#fff" stroke="#fff" stroke-width="0.8" stroke-linejoin="round" textLength="44.3" lengthAdjust="spacingAndGlyphs">BOCAS DEL</text>
<text x="172.2" y="359.5" font-size="10.89" font-weight="bold" fill="#fff" stroke="#fff" stroke-width="0.8" stroke-linejoin="round" textLength="21.6" lengthAdjust="spacingAndGlyphs">TORO</text>
<text x="296" y="439.4" font-size="10.34" font-weight="bold" fill="#fff" stroke="#fff" stroke-width="0.8" stroke-linejoin="round" textLength="55.2" lengthAdjust="spacingAndGlyphs">NGÄBE BUGLÉ</text>
<text x="517.1" y="384.5" font-size="11.03" font-weight="bold" fill="#fff" stroke="#fff" stroke-width="0.8" stroke-linejoin="round" textLength="27" lengthAdjust="spacingAndGlyphs">COLÓN</text>
<text x="590" y="410.7" font-size="10.89" font-weight="bold" fill="#fff" stroke="#fff" stroke-width="0.8" stroke-linejoin="round" textLength="34" lengthAdjust="spacingAndGlyphs">PANAMÁ</text>
<text x="595.2" y="423.6" font-size="10.89" font-weight="bold" fill="#fff" stroke="#fff" stroke-width="0.8" stroke-linejoin="round" textLength="24.5" lengthAdjust="spacingAndGlyphs">OESTE</text>
<text x="708.1" y="359.1" font-size="11.17" font-weight="bold" fill="#fff" stroke="#fff" stroke-width="0.8" stroke-linejoin="round" textLength="34" lengthAdjust="spacingAndGlyphs">PANAMÁ</text>
<text x="188.6" y="467.9" font-size="10.61" font-weight="bold" fill="#fff" stroke="#fff" stroke-width="0.8" stroke-linejoin="round" textLength="38.8" lengthAdjust="spacingAndGlyphs">CHIRIQUÍ</text>
<text x="384.5" y="511.4" font-size="10.89" font-weight="bold" fill="#fff" stroke="#fff" stroke-width="0.8" stroke-linejoin="round" textLength="44.1" lengthAdjust="spacingAndGlyphs">VERAGUAS</text>
<text x="493.8" y="456" font-size="10.75" font-weight="bold" fill="#fff" stroke="#fff" stroke-width="0.8" stroke-linejoin="round" textLength="25.9" lengthAdjust="spacingAndGlyphs">COCLÉ</text>
<text x="475.3" y="542.3" font-size="10.75" font-weight="bold" fill="#fff" stroke="#fff" stroke-width="0.8" stroke-linejoin="round" textLength="37.4" lengthAdjust="spacingAndGlyphs">HERRERA</text>
<text x="515.5" y="602.4" font-size="11.03" font-weight="bold" fill="#fff" stroke="#fff" stroke-width="0.8" stroke-linejoin="round" textLength="49.7" lengthAdjust="spacingAndGlyphs">LOS SANTOS</text>
<text x="939.8" y="477.2" font-size="11.45" font-weight="bold" fill="#fff" stroke="#fff" stroke-width="0.8" stroke-linejoin="round" textLength="41.1" lengthAdjust="spacingAndGlyphs">EMBERÁ</text>
<text x="915.5" y="547.3" font-size="12.29" font-weight="bold" fill="#fff" stroke="#fff" stroke-width="0.8" stroke-linejoin="round" textLength="36.9" lengthAdjust="spacingAndGlyphs">DARIÉN</text>
<text x="874.3" y="580.9" font-size="12.01" font-weight="bold" fill="#fff" stroke="#fff" stroke-width="0.8" stroke-linejoin="round" textLength="40.5" lengthAdjust="spacingAndGlyphs">EMBERÁ</text>
<g transform="translate(833.2,330.6) rotate(27.5)">
<text x="0" y="0" font-size="8.4" font-weight="bold" font-style="italic" fill="#fff" stroke="#fff" stroke-width="0.6" textLength="38.5" lengthAdjust="spacingAndGlyphs">GUNA YALA</text>
</g>
<g transform="translate(124,424.3) rotate(-90)">
<text x="0" y="0" font-size="16.3" font-weight="bold" fill="#1a1a1a" text-anchor="start" textLength="88" lengthAdjust="spacingAndGlyphs">COSTA RICA</text>
</g>
<text x="961.39" y="639" font-size="13" font-weight="normal" fill="#1a1a1a" text-anchor="start" textLength="74.93" lengthAdjust="spacingAndGlyphs" stroke="#1a1a1a" stroke-width="0.3">COLOMBIA</text>
<text x="734.335" y="518" font-size="9.5" font-weight="normal" fill="#1a1a1a" text-anchor="start" textLength="81.745" lengthAdjust="spacingAndGlyphs">OCÉANO PACÍFICO</text>
<rect x="58" y="195.2" width="145.5" height="24.1" fill="#076fae"/>
<rect x="58.8" y="222.4" width="70.7" height="29.5" fill="#0c4674"/>
<rect x="131.6" y="222.4" width="71.2" height="29.5" fill="#2aa7e0"/>
<text x="72.383" y="207" font-size="8.1" font-weight="bold" fill="#fff" text-anchor="start" textLength="42.191" lengthAdjust="spacingAndGlyphs">CANTIDAD</text>
<text x="71.483" y="216.1" font-size="8.1" font-weight="bold" fill="#fff" text-anchor="start" textLength="43.991" lengthAdjust="spacingAndGlyphs">ILETRADOS</text>
<text x="145.783" y="207" font-size="8.1" font-weight="bold" fill="#fff" text-anchor="start" textLength="42.191" lengthAdjust="spacingAndGlyphs">CANTIDAD</text>
<text x="135.133" y="216.1" font-size="8.1" font-weight="bold" fill="#fff" text-anchor="start" textLength="63.491" lengthAdjust="spacingAndGlyphs">ALFABETIZADOS</text>
<text x="69.36" y="188.6" font-size="12" font-weight="bold" fill="#1a1a1a" text-anchor="start" textLength="117.62" lengthAdjust="spacingAndGlyphs" stroke="#1a1a1a" stroke-width="0.25">BOCAS DEL TORO</text>
<text x="64.268" y="243.4" font-size="17.6" font-weight="bold" fill="#fff" text-anchor="start" textLength="58.836" lengthAdjust="spacingAndGlyphs">10,442</text>
<text x="140.468" y="243.4" font-size="17.6" font-weight="bold" fill="#fff" text-anchor="start" textLength="49.336" lengthAdjust="spacingAndGlyphs">6,769</text>
<rect x="255.5" y="256.7" width="145.5" height="24.1" fill="#076fae"/>
<rect x="256.3" y="283.9" width="70.7" height="29.5" fill="#0c4674"/>
<rect x="329.1" y="283.9" width="71.2" height="29.5" fill="#2aa7e0"/>
<text x="269.883" y="268.5" font-size="8.1" font-weight="bold" fill="#fff" text-anchor="start" textLength="42.191" lengthAdjust="spacingAndGlyphs">CANTIDAD</text>
<text x="268.983" y="277.6" font-size="8.1" font-weight="bold" fill="#fff" text-anchor="start" textLength="43.991" lengthAdjust="spacingAndGlyphs">ILETRADOS</text>
<text x="343.283" y="268.5" font-size="8.1" font-weight="bold" fill="#fff" text-anchor="start" textLength="42.191" lengthAdjust="spacingAndGlyphs">CANTIDAD</text>
<text x="332.633" y="277.6" font-size="8.1" font-weight="bold" fill="#fff" text-anchor="start" textLength="63.491" lengthAdjust="spacingAndGlyphs">ALFABETIZADOS</text>
<text x="277.96" y="252.4" font-size="12" font-weight="bold" fill="#1a1a1a" text-anchor="start" textLength="95.32" lengthAdjust="spacingAndGlyphs" stroke="#1a1a1a" stroke-width="0.25">NGÄBE BUGLÉ</text>
<text x="260.868" y="305.5" font-size="17.6" font-weight="bold" fill="#fff" text-anchor="start" textLength="58.836" lengthAdjust="spacingAndGlyphs">31,991</text>
<text x="334.468" y="305.5" font-size="17.6" font-weight="bold" fill="#fff" text-anchor="start" textLength="58.836" lengthAdjust="spacingAndGlyphs">18,357</text>
<rect x="413.5" y="202.5" width="145.5" height="24.1" fill="#076fae"/>
<rect x="414.3" y="229.7" width="70.7" height="29.5" fill="#0c4674"/>
<rect x="487.1" y="229.7" width="71.2" height="29.5" fill="#2aa7e0"/>
<text x="427.883" y="214.3" font-size="8.1" font-weight="bold" fill="#fff" text-anchor="start" textLength="42.191" lengthAdjust="spacingAndGlyphs">CANTIDAD</text>
<text x="426.983" y="223.4" font-size="8.1" font-weight="bold" fill="#fff" text-anchor="start" textLength="43.991" lengthAdjust="spacingAndGlyphs">ILETRADOS</text>
<text x="501.283" y="214.3" font-size="8.1" font-weight="bold" fill="#fff" text-anchor="start" textLength="42.191" lengthAdjust="spacingAndGlyphs">CANTIDAD</text>
<text x="490.633" y="223.4" font-size="8.1" font-weight="bold" fill="#fff" text-anchor="start" textLength="63.491" lengthAdjust="spacingAndGlyphs">ALFABETIZADOS</text>
<text x="458.96" y="198.1" font-size="12" font-weight="bold" fill="#1a1a1a" text-anchor="start" textLength="48.72" lengthAdjust="spacingAndGlyphs" stroke="#1a1a1a" stroke-width="0.25">COLÓN</text>
<text x="425.968" y="252.3" font-size="17.6" font-weight="bold" fill="#fff" text-anchor="start" textLength="49.236" lengthAdjust="spacingAndGlyphs">5,808</text>
<text x="493.568" y="252.3" font-size="17.6" font-weight="bold" fill="#fff" text-anchor="start" textLength="46.836" lengthAdjust="spacingAndGlyphs">1,171</text>
<rect x="651.9" y="202.4" width="145.5" height="24.1" fill="#076fae"/>
<rect x="652.7" y="229.6" width="70.7" height="29.5" fill="#0c4674"/>
<rect x="725.5" y="229.6" width="71.2" height="29.5" fill="#2aa7e0"/>
<text x="666.283" y="214.2" font-size="8.1" font-weight="bold" fill="#fff" text-anchor="start" textLength="42.191" lengthAdjust="spacingAndGlyphs">CANTIDAD</text>
<text x="665.383" y="223.3" font-size="8.1" font-weight="bold" fill="#fff" text-anchor="start" textLength="43.991" lengthAdjust="spacingAndGlyphs">ILETRADOS</text>
<text x="739.683" y="214.2" font-size="8.1" font-weight="bold" fill="#fff" text-anchor="start" textLength="42.191" lengthAdjust="spacingAndGlyphs">CANTIDAD</text>
<text x="729.033" y="223.3" font-size="8.1" font-weight="bold" fill="#fff" text-anchor="start" textLength="63.491" lengthAdjust="spacingAndGlyphs">ALFABETIZADOS</text>
<text x="668.86" y="198.1" font-size="12" font-weight="bold" fill="#1a1a1a" text-anchor="start" textLength="106.42" lengthAdjust="spacingAndGlyphs" stroke="#1a1a1a" stroke-width="0.25">PANAMÁ OESTE</text>
<text x="658.468" y="251.9" font-size="17.6" font-weight="bold" fill="#fff" text-anchor="start" textLength="57.936" lengthAdjust="spacingAndGlyphs">11,141</text>
<text x="734.768" y="251.9" font-size="17.6" font-weight="bold" fill="#fff" text-anchor="start" textLength="48.536" lengthAdjust="spacingAndGlyphs">4,791</text>
<rect x="919.8" y="255" width="145.5" height="24.1" fill="#076fae"/>
<rect x="920.6" y="282.2" width="70.7" height="29.5" fill="#0c4674"/>
<rect x="993.4" y="282.2" width="71.2" height="29.5" fill="#2aa7e0"/>
<text x="934.183" y="266.8" font-size="8.1" font-weight="bold" fill="#fff" text-anchor="start" textLength="42.191" lengthAdjust="spacingAndGlyphs">CANTIDAD</text>
<text x="933.283" y="275.9" font-size="8.1" font-weight="bold" fill="#fff" text-anchor="start" textLength="43.991" lengthAdjust="spacingAndGlyphs">ILETRADOS</text>
<text x="1007.58" y="266.8" font-size="8.1" font-weight="bold" fill="#fff" text-anchor="start" textLength="42.191" lengthAdjust="spacingAndGlyphs">CANTIDAD</text>
<text x="996.933" y="275.9" font-size="8.1" font-weight="bold" fill="#fff" text-anchor="start" textLength="63.491" lengthAdjust="spacingAndGlyphs">ALFABETIZADOS</text>
<text x="950.86" y="250.7" font-size="12" font-weight="bold" fill="#1a1a1a" text-anchor="start" textLength="78.42" lengthAdjust="spacingAndGlyphs" stroke="#1a1a1a" stroke-width="0.25">GUNA YALA</text>
<text x="928.068" y="303.1" font-size="17.6" font-weight="bold" fill="#fff" text-anchor="start" textLength="48.336" lengthAdjust="spacingAndGlyphs">8,821</text>
<text x="1005.67" y="303.1" font-size="17.6" font-weight="bold" fill="#fff" text-anchor="start" textLength="48.436" lengthAdjust="spacingAndGlyphs">3,017</text>
<rect x="655.3" y="426.6" width="127.6" height="20.8" fill="#076fae"/>
<rect x="656.2" y="449.8" width="62.4" height="25.9" fill="#0c4674"/>
<rect x="720" y="449.8" width="62.4" height="25.9" fill="#2aa7e0"/>
<text x="669.359" y="436.6" font-size="6.3" font-weight="normal" fill="#fff" text-anchor="start" textLength="36.693" lengthAdjust="spacingAndGlyphs">CANTIDAD</text>
<text x="668.609" y="444.3" font-size="6.3" font-weight="normal" fill="#fff" text-anchor="start" textLength="38.193" lengthAdjust="spacingAndGlyphs">ILETRADOS</text>
<text x="732.859" y="436.6" font-size="6.3" font-weight="normal" fill="#fff" text-anchor="start" textLength="36.693" lengthAdjust="spacingAndGlyphs">CANTIDAD</text>
<text x="723.859" y="444.3" font-size="6.3" font-weight="normal" fill="#fff" text-anchor="start" textLength="54.693" lengthAdjust="spacingAndGlyphs">ALFABETIZADOS</text>
<text x="690.76" y="422.4" font-size="12" font-weight="bold" fill="#1a1a1a" text-anchor="start" textLength="53.02" lengthAdjust="spacingAndGlyphs" stroke="#1a1a1a" stroke-width="0.25">PANAMÁ</text>
<text x="659.78" y="469" font-size="16" font-weight="bold" fill="#fff" text-anchor="start" textLength="54.26" lengthAdjust="spacingAndGlyphs">19,686</text>
<text x="730.08" y="469" font-size="16" font-weight="bold" fill="#fff" text-anchor="start" textLength="43.96" lengthAdjust="spacingAndGlyphs">7,801</text>
<rect x="568.1" y="510.1" width="145.5" height="24.1" fill="#076fae"/>
<rect x="568.9" y="537.3" width="70.7" height="29.5" fill="#0c4674"/>
<rect x="641.7" y="537.3" width="71.2" height="29.5" fill="#2aa7e0"/>
<text x="582.483" y="521.9" font-size="8.1" font-weight="bold" fill="#fff" text-anchor="start" textLength="42.191" lengthAdjust="spacingAndGlyphs">CANTIDAD</text>
<text x="581.583" y="531" font-size="8.1" font-weight="bold" fill="#fff" text-anchor="start" textLength="43.991" lengthAdjust="spacingAndGlyphs">ILETRADOS</text>
<text x="655.883" y="521.9" font-size="8.1" font-weight="bold" fill="#fff" text-anchor="start" textLength="42.191" lengthAdjust="spacingAndGlyphs">CANTIDAD</text>
<text x="645.233" y="531" font-size="8.1" font-weight="bold" fill="#fff" text-anchor="start" textLength="63.491" lengthAdjust="spacingAndGlyphs">ALFABETIZADOS</text>
<text x="616.06" y="505" font-size="12" font-weight="bold" fill="#1a1a1a" text-anchor="start" textLength="44.42" lengthAdjust="spacingAndGlyphs" stroke="#1a1a1a" stroke-width="0.25">COCLÉ</text>
<text x="577.168" y="556.8" font-size="17.6" font-weight="bold" fill="#fff" text-anchor="start" textLength="45.936" lengthAdjust="spacingAndGlyphs">9,336</text>
<text x="654.268" y="556.8" font-size="17.6" font-weight="bold" fill="#fff" text-anchor="start" textLength="45.536" lengthAdjust="spacingAndGlyphs">3,199</text>
<rect x="639" y="595.5" width="145.5" height="24.1" fill="#076fae"/>
<rect x="639.8" y="622.7" width="70.7" height="29.5" fill="#0c4674"/>
<rect x="712.6" y="622.7" width="71.2" height="29.5" fill="#2aa7e0"/>
<text x="653.383" y="607.3" font-size="8.1" font-weight="bold" fill="#fff" text-anchor="start" textLength="42.191" lengthAdjust="spacingAndGlyphs">CANTIDAD</text>
<text x="652.483" y="616.4" font-size="8.1" font-weight="bold" fill="#fff" text-anchor="start" textLength="43.991" lengthAdjust="spacingAndGlyphs">ILETRADOS</text>
<text x="726.783" y="607.3" font-size="8.1" font-weight="bold" fill="#fff" text-anchor="start" textLength="42.191" lengthAdjust="spacingAndGlyphs">CANTIDAD</text>
<text x="716.133" y="616.4" font-size="8.1" font-weight="bold" fill="#fff" text-anchor="start" textLength="63.491" lengthAdjust="spacingAndGlyphs">ALFABETIZADOS</text>
<text x="681.16" y="590.7" font-size="12" font-weight="bold" fill="#1a1a1a" text-anchor="start" textLength="56.22" lengthAdjust="spacingAndGlyphs" stroke="#1a1a1a" stroke-width="0.25">EMBERÁ</text>
<text x="651.868" y="643.5" font-size="17.6" font-weight="bold" fill="#fff" text-anchor="start" textLength="48.836" lengthAdjust="spacingAndGlyphs">1,838</text>
<text x="723.268" y="643.5" font-size="17.6" font-weight="bold" fill="#fff" text-anchor="start" textLength="48.436" lengthAdjust="spacingAndGlyphs">1,797</text>
<rect x="105.1" y="602.1" width="145.5" height="24.1" fill="#076fae"/>
<rect x="105.9" y="629.3" width="70.7" height="29.5" fill="#0c4674"/>
<rect x="178.7" y="629.3" width="71.2" height="29.5" fill="#2aa7e0"/>
<text x="119.483" y="613.9" font-size="8.1" font-weight="bold" fill="#fff" text-anchor="start" textLength="42.191" lengthAdjust="spacingAndGlyphs">CANTIDAD</text>
<text x="118.583" y="623" font-size="8.1" font-weight="bold" fill="#fff" text-anchor="start" textLength="43.991" lengthAdjust="spacingAndGlyphs">ILETRADOS</text>
<text x="192.883" y="613.9" font-size="8.1" font-weight="bold" fill="#fff" text-anchor="start" textLength="42.191" lengthAdjust="spacingAndGlyphs">CANTIDAD</text>
<text x="182.233" y="623" font-size="8.1" font-weight="bold" fill="#fff" text-anchor="start" textLength="63.491" lengthAdjust="spacingAndGlyphs">ALFABETIZADOS</text>
<text x="145.06" y="597.2" font-size="12" font-weight="bold" fill="#1a1a1a" text-anchor="start" textLength="60.82" lengthAdjust="spacingAndGlyphs" stroke="#1a1a1a" stroke-width="0.25">CHIRIQUÍ</text>
<text x="110.568" y="649.7" font-size="17.6" font-weight="bold" fill="#fff" text-anchor="start" textLength="60.636" lengthAdjust="spacingAndGlyphs">22,030</text>
<text x="184.268" y="649.7" font-size="17.6" font-weight="bold" fill="#fff" text-anchor="start" textLength="59.836" lengthAdjust="spacingAndGlyphs">11,272</text>
<rect x="292.9" y="684.9" width="145.5" height="24.1" fill="#076fae"/>
<rect x="293.7" y="712.1" width="70.7" height="29.5" fill="#0c4674"/>
<rect x="366.5" y="712.1" width="71.2" height="29.5" fill="#2aa7e0"/>
<text x="307.283" y="696.7" font-size="8.1" font-weight="bold" fill="#fff" text-anchor="start" textLength="42.191" lengthAdjust="spacingAndGlyphs">CANTIDAD</text>
<text x="306.383" y="705.8" font-size="8.1" font-weight="bold" fill="#fff" text-anchor="start" textLength="43.991" lengthAdjust="spacingAndGlyphs">ILETRADOS</text>
<text x="380.683" y="696.7" font-size="8.1" font-weight="bold" fill="#fff" text-anchor="start" textLength="42.191" lengthAdjust="spacingAndGlyphs">CANTIDAD</text>
<text x="370.033" y="705.8" font-size="8.1" font-weight="bold" fill="#fff" text-anchor="start" textLength="63.491" lengthAdjust="spacingAndGlyphs">ALFABETIZADOS</text>
<text x="326.66" y="680.3" font-size="12" font-weight="bold" fill="#1a1a1a" text-anchor="start" textLength="73.52" lengthAdjust="spacingAndGlyphs" stroke="#1a1a1a" stroke-width="0.25">VERAGUAS</text>
<text x="298.768" y="733.5" font-size="17.6" font-weight="bold" fill="#fff" text-anchor="start" textLength="59.436" lengthAdjust="spacingAndGlyphs">24,515</text>
<text x="377.368" y="733.5" font-size="17.6" font-weight="bold" fill="#fff" text-anchor="start" textLength="49.536" lengthAdjust="spacingAndGlyphs">6,393</text>
<rect x="486.7" y="705.1" width="145.5" height="24.1" fill="#076fae"/>
<rect x="487.5" y="732.3" width="70.7" height="29.5" fill="#0c4674"/>
<rect x="560.3" y="732.3" width="71.2" height="29.5" fill="#2aa7e0"/>
<text x="501.083" y="716.9" font-size="8.1" font-weight="bold" fill="#fff" text-anchor="start" textLength="42.191" lengthAdjust="spacingAndGlyphs">CANTIDAD</text>
<text x="500.183" y="726" font-size="8.1" font-weight="bold" fill="#fff" text-anchor="start" textLength="43.991" lengthAdjust="spacingAndGlyphs">ILETRADOS</text>
<text x="574.483" y="716.9" font-size="8.1" font-weight="bold" fill="#fff" text-anchor="start" textLength="42.191" lengthAdjust="spacingAndGlyphs">CANTIDAD</text>
<text x="563.833" y="726" font-size="8.1" font-weight="bold" fill="#fff" text-anchor="start" textLength="63.491" lengthAdjust="spacingAndGlyphs">ALFABETIZADOS</text>
<text x="514.76" y="700.6" font-size="12" font-weight="bold" fill="#1a1a1a" text-anchor="start" textLength="83.72" lengthAdjust="spacingAndGlyphs" stroke="#1a1a1a" stroke-width="0.25">LOS SANTOS</text>
<text x="500.468" y="753.2" font-size="17.6" font-weight="bold" fill="#fff" text-anchor="start" textLength="47.536" lengthAdjust="spacingAndGlyphs">7,491</text>
<text x="571.868" y="753.2" font-size="17.6" font-weight="bold" fill="#fff" text-anchor="start" textLength="48.536" lengthAdjust="spacingAndGlyphs">3,977</text>
<rect x="823.1" y="714.2" width="145.5" height="24.1" fill="#076fae"/>
<rect x="823.9" y="741.4" width="70.7" height="29.5" fill="#0c4674"/>
<rect x="896.7" y="741.4" width="71.2" height="29.5" fill="#2aa7e0"/>
<text x="837.483" y="726" font-size="8.1" font-weight="bold" fill="#fff" text-anchor="start" textLength="42.191" lengthAdjust="spacingAndGlyphs">CANTIDAD</text>
<text x="836.583" y="735.1" font-size="8.1" font-weight="bold" fill="#fff" text-anchor="start" textLength="43.991" lengthAdjust="spacingAndGlyphs">ILETRADOS</text>
<text x="910.883" y="726" font-size="8.1" font-weight="bold" fill="#fff" text-anchor="start" textLength="42.191" lengthAdjust="spacingAndGlyphs">CANTIDAD</text>
<text x="900.233" y="735.1" font-size="8.1" font-weight="bold" fill="#fff" text-anchor="start" textLength="63.491" lengthAdjust="spacingAndGlyphs">ALFABETIZADOS</text>
<text x="867.76" y="709.7" font-size="12" font-weight="bold" fill="#1a1a1a" text-anchor="start" textLength="51.32" lengthAdjust="spacingAndGlyphs" stroke="#1a1a1a" stroke-width="0.25">DARIÉN</text>
<text x="837.368" y="762" font-size="17.6" font-weight="bold" fill="#fff" text-anchor="start" textLength="49.236" lengthAdjust="spacingAndGlyphs">6,454</text>
<text x="908.668" y="762" font-size="17.6" font-weight="bold" fill="#fff" text-anchor="start" textLength="48.936" lengthAdjust="spacingAndGlyphs">2,905</text>
<rect x="439.1" y="793.1" width="145.5" height="24.1" fill="#076fae"/>
<rect x="439.9" y="820.3" width="70.7" height="29.5" fill="#0c4674"/>
<rect x="512.7" y="820.3" width="71.2" height="29.5" fill="#2aa7e0"/>
<text x="453.483" y="804.9" font-size="8.1" font-weight="bold" fill="#fff" text-anchor="start" textLength="42.191" lengthAdjust="spacingAndGlyphs">CANTIDAD</text>
<text x="452.583" y="814" font-size="8.1" font-weight="bold" fill="#fff" text-anchor="start" textLength="43.991" lengthAdjust="spacingAndGlyphs">ILETRADOS</text>
<text x="526.883" y="804.9" font-size="8.1" font-weight="bold" fill="#fff" text-anchor="start" textLength="42.191" lengthAdjust="spacingAndGlyphs">CANTIDAD</text>
<text x="516.233" y="814" font-size="8.1" font-weight="bold" fill="#fff" text-anchor="start" textLength="63.491" lengthAdjust="spacingAndGlyphs">ALFABETIZADOS</text>
<text x="478.76" y="788.6" font-size="12" font-weight="bold" fill="#1a1a1a" text-anchor="start" textLength="61.72" lengthAdjust="spacingAndGlyphs" stroke="#1a1a1a" stroke-width="0.25">HERRERA</text>
<text x="448.768" y="842.8" font-size="17.6" font-weight="bold" fill="#fff" text-anchor="start" textLength="48.536" lengthAdjust="spacingAndGlyphs">8,587</text>
<text x="524.268" y="842.8" font-size="17.6" font-weight="bold" fill="#fff" text-anchor="start" textLength="49.936" lengthAdjust="spacingAndGlyphs">4,874</text>
<rect x="743" y="811.2" width="18.5" height="11.4" fill="#0c4674"/>
<rect x="743" y="834.6" width="18.5" height="11.4" fill="#2aa7e0"/>
<text x="770.739" y="821.1" font-size="12.3" font-weight="bold" fill="#1a1a1a" text-anchor="start" textLength="334.153" lengthAdjust="spacingAndGlyphs">CANTIDAD DE ILETRADOS REFERENCIA - CENSO 2000</text>
<text x="770.739" y="844.5" font-size="12.3" font-weight="bold" fill="#1a1a1a" text-anchor="start" textLength="269.153" lengthAdjust="spacingAndGlyphs">CANTIDAD DE ALFABETIZADOS 2007 - 2019</text>
<text x="62.5" y="837" font-size="10.5" font-style="italic" fill="#5e5e5e" textLength="46.3" lengthAdjust="spacingAndGlyphs">FUENTE:</text>
<text x="62.5" y="851.3" font-size="10.5" font-style="italic" fill="#5e5e5e" textLength="276.3" lengthAdjust="spacingAndGlyphs">Dirección Nacional del Proyecto de Alfabetización del</text>
<text x="62.5" y="865" font-size="10.5" font-style="italic" fill="#5e5e5e" textLength="203.5" lengthAdjust="spacingAndGlyphs">Ministerio de Desarrollo Social (MIDES).</text>
<text x="62.5" y="878.3" font-size="10.5" font-style="italic" fill="#5e5e5e" textLength="245" lengthAdjust="spacingAndGlyphs">Contraloría General de la República de Panamá.</text>
</svg>
</body>
</html>
